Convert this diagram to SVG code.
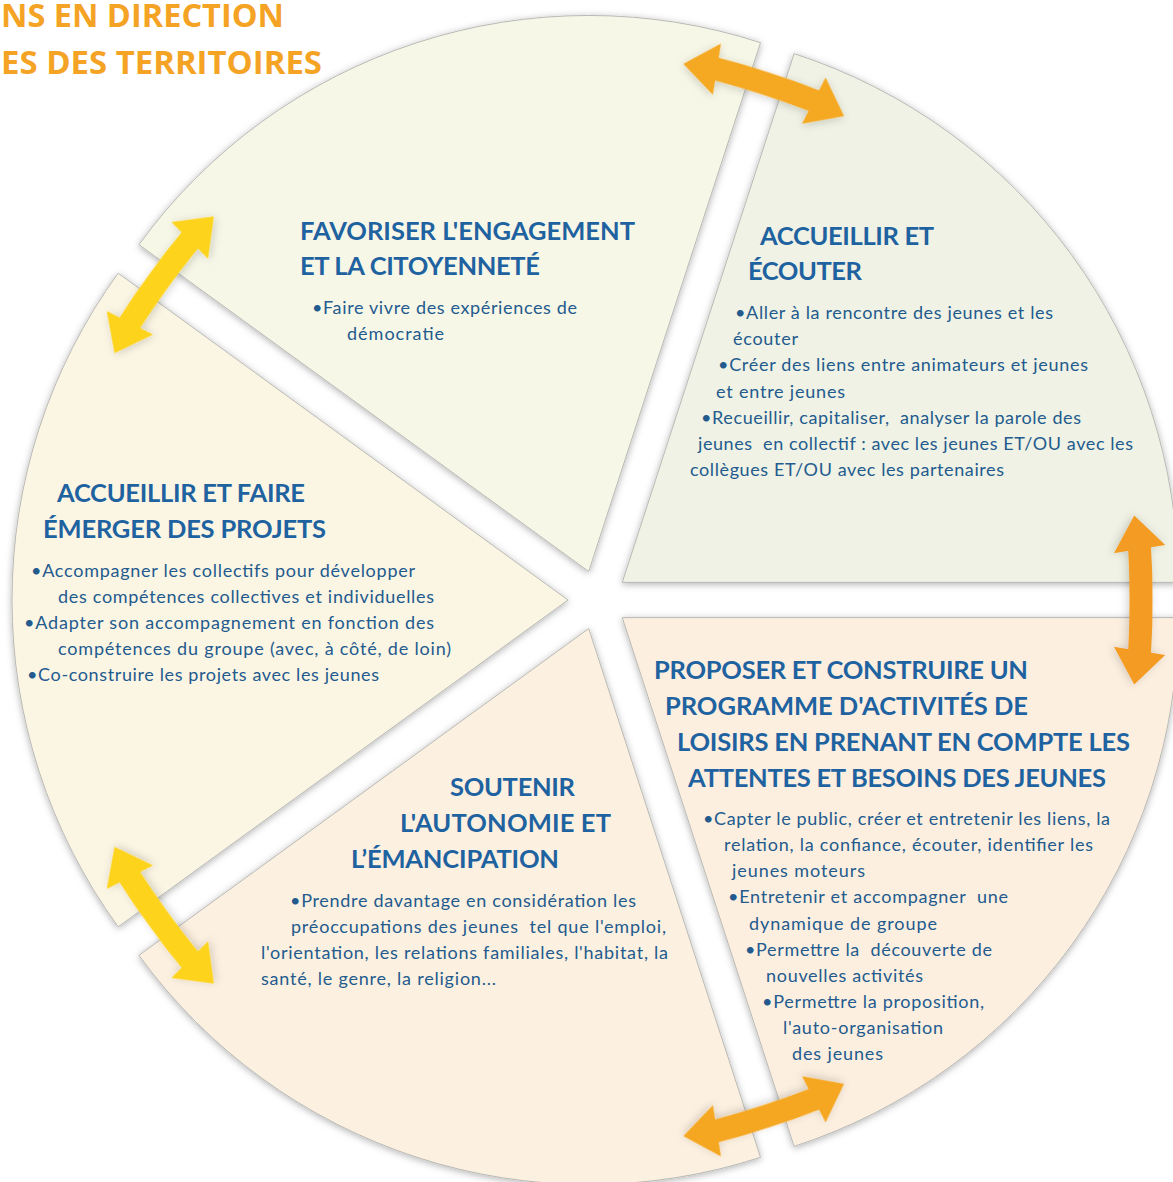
<svg xmlns="http://www.w3.org/2000/svg" width="1173" height="1182" viewBox="0 0 1173 1182">
  <defs>
    <filter id="sh" x="-10%" y="-10%" width="120%" height="120%">
      <feDropShadow dx="0" dy="1.5" stdDeviation="3.5" flood-color="#000" flood-opacity="0.3"/>
    </filter>
    <filter id="ash" x="-20%" y="-20%" width="140%" height="140%">
      <feDropShadow dx="0" dy="2" stdDeviation="4" flood-color="#000" flood-opacity="0.18"/>
    </filter>
    <path id="arrow" d="M-84.5,6.65 L-54.99,-24.35 L-52.72,-10.03 Q0,-12.97 52.72,-10.03 L54.99,-24.35 L84.5,6.65 L46.85,27.01 L49.12,12.69 Q0,10.31 -49.12,12.69 L-46.85,27.01 Z"/>
  </defs>
  <style>
    text { white-space: pre; font-family: Lato, "Open Sans", "Liberation Sans", sans-serif; }
    .wedge { stroke: #b9b9b5; stroke-width: 1; filter: url(#sh); }
    .title { font-size: 25.5px; font-weight: bold; fill: #1f62a0; }
    .body { font-size: 18px; fill: #235b8e; }
    .head { font-family: "Open Sans", Lato, "Liberation Sans", sans-serif; font-size: 32px; font-weight: bold; fill: #f5a324; }
    .arr { filter: url(#ash); }
  </style>
  <rect width="1173" height="1182" fill="#ffffff"/>

  <g id="header">
    <text class="head" x="1" y="27" textLength="283" lengthAdjust="spacingAndGlyphs">NS EN DIRECTION</text>
    <text class="head" x="1" y="74" textLength="321" lengthAdjust="spacingAndGlyphs">ES DES TERRITOIRES</text>
  </g>

  <g id="node-favoriser">
    <path class="wedge" fill="#f7f7e8" d="M588.73,571.47 L138.91,244.66 A556,556 0 0 1 760.54,42.68 Z"/>
    <text class="title" x="300" y="240" textLength="335">FAVORISER L'ENGAGEMENT</text>
    <text class="title" x="300" y="275" textLength="240">ET LA CITOYENNETÉ</text>
    <text class="body" x="312" y="314" textLength="265">•Faire vivre des expériences de</text>
    <text class="body" x="347" y="340" textLength="97">démocratie</text>
  </g>

  <g id="node-accueillir-ecouter">
    <path class="wedge" fill="#eff2e4" d="M622.27,582.37 L794.08,53.58 A556,556 0 0 1 1178.27,582.37 Z"/>
    <text class="title" x="760" y="245" textLength="174">ACCUEILLIR ET</text>
    <text class="title" x="748" y="280" textLength="114">ÉCOUTER</text>
    <text class="body" x="735" y="319" textLength="318">•Aller à la rencontre des jeunes et les</text>
    <text class="body" x="733" y="345" textLength="65">écouter</text>
    <text class="body" x="718" y="371" textLength="370">•Créer des liens entre animateurs et jeunes</text>
    <text class="body" x="716" y="398" textLength="129">et entre jeunes</text>
    <text class="body" x="701" y="424" textLength="380">•Recueillir, capitaliser,  analyser la parole des</text>
    <text class="body" x="698" y="450" textLength="435">jeunes  en collectif : avec les jeunes ET/OU avec les</text>
    <text class="body" x="690" y="476" textLength="314">collègues ET/OU avec les partenaires</text>
  </g>

  <g id="node-proposer">
    <path class="wedge" fill="#fcefe0" d="M622.27,617.63 L1178.27,617.63 A556,556 0 0 1 794.08,1146.42 Z"/>
    <text class="title" x="654" y="679" textLength="374">PROPOSER ET CONSTRUIRE UN</text>
    <text class="title" x="665" y="715" textLength="363">PROGRAMME D'ACTIVITÉS DE</text>
    <text class="title" x="677" y="751" textLength="453">LOISIRS EN PRENANT EN COMPTE LES</text>
    <text class="title" x="688" y="787" textLength="418">ATTENTES ET BESOINS DES JEUNES</text>
    <text class="body" x="703" y="825" textLength="407">•Capter le public, créer et entretenir les liens, la</text>
    <text class="body" x="724" y="851" textLength="369">relation, la confiance, écouter, identifier les</text>
    <text class="body" x="732" y="877" textLength="133">jeunes moteurs</text>
    <text class="body" x="728" y="903" textLength="280">•Entretenir et accompagner  une</text>
    <text class="body" x="749" y="930" textLength="188">dynamique de groupe</text>
    <text class="body" x="745" y="956" textLength="247">•Permettre la  découverte de</text>
    <text class="body" x="766" y="982" textLength="157">nouvelles activités</text>
    <text class="body" x="762" y="1008" textLength="222">•Permettre la proposition,</text>
    <text class="body" x="783" y="1034" textLength="160">l'auto-organisation</text>
    <text class="body" x="792" y="1060" textLength="91">des jeunes</text>
  </g>

  <g id="node-soutenir">
    <path class="wedge" fill="#fcf0e0" d="M588.73,628.53 L760.54,1157.32 A556,556 0 0 1 138.92,955.34 Z"/>
    <text class="title" x="450" y="796" textLength="125">SOUTENIR</text>
    <text class="title" x="400" y="832" textLength="211">L'AUTONOMIE ET</text>
    <text class="title" x="351" y="868" textLength="208">L’ÉMANCIPATION</text>
    <text class="body" x="290" y="907" textLength="346">•Prendre davantage en considération les</text>
    <text class="body" x="291" y="933" textLength="375">préoccupations des jeunes  tel que l'emploi,</text>
    <text class="body" x="261" y="959" textLength="407">l'orientation, les relations familiales, l'habitat, la</text>
    <text class="body" x="261" y="985" textLength="235">santé, le genre, la religion...</text>
  </g>

  <g id="node-emerger">
    <path class="wedge" fill="#fbf5e4" d="M568,600 L118.18,926.81 A556,556 0 0 1 118.18,273.19 Z"/>
    <text class="title" x="57" y="502" textLength="248">ACCUEILLIR ET FAIRE</text>
    <text class="title" x="43" y="538" textLength="283">ÉMERGER DES PROJETS</text>
    <text class="body" x="31" y="577" textLength="384">•Accompagner les collectifs pour développer</text>
    <text class="body" x="58" y="603" textLength="376">des compétences collectives et individuelles</text>
    <text class="body" x="24" y="629" textLength="410">•Adapter son accompagnement en fonction des</text>
    <text class="body" x="58" y="655" textLength="393">compétences du groupe (avec, à côté, de loin)</text>
    <text class="body" x="27" y="681" textLength="352">•Co-construire les projets avec les jeunes</text>
  </g>

  <g id="connectors">
    <use href="#arrow" class="arr" fill="#f5a820" transform="translate(765.8,83.6) rotate(18)"/>
    <use href="#arrow" class="arr" fill="#f39b21" transform="translate(1141,600) rotate(90)"/>
    <use href="#arrow" class="arr" fill="#f5a722" transform="translate(765.8,1116.4) rotate(162)"/>
    <use href="#arrow" class="arr" fill="#fdd31d" transform="translate(158.7,919.2) rotate(234)"/>
    <use href="#arrow" class="arr" fill="#fdd31d" transform="translate(158.7,280.8) rotate(306)"/>
  </g>
</svg>
